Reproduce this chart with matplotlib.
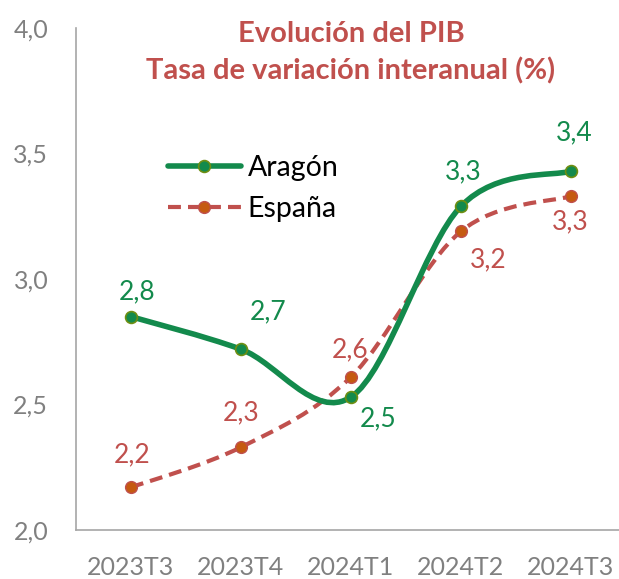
import matplotlib
matplotlib.use("Agg")
import matplotlib.pyplot as plt
from matplotlib.path import Path
from matplotlib.patches import PathPatch
from matplotlib.lines import Line2D
import numpy as np

categories = ["2023T3", "2023T4", "2024T1", "2024T2", "2024T3"]
aragon = [2.85, 2.72, 2.53, 3.29, 3.43]
espana = [2.17, 2.33, 2.61, 3.19, 3.33]
aragon_labels = ["2,8", "2,7", "2,5", "3,3", "3,4"]
espana_labels = ["2,2", "2,3", "2,6", "3,2", "3,3"]
yticks = [2.0, 2.5, 3.0, 3.5, 4.0]
ytick_labels = ["2,0", "2,5", "3,0", "3,5", "4,0"]

GREEN = "#138A4C"
GREEN_EDGE = "#6E8E12"
RED = "#C0504D"
ORANGE = "#C55A11"
GRAY = "#808080"

plt.rcParams['font.family'] = ['Lato', 'DejaVu Sans']

W, H = 619, 579
fig = plt.figure(figsize=(W / 100, H / 100), dpi=100)
ax = fig.add_axes([76 / W, 1 - 530 / H, 550 / W, 502 / H])
ax.set_xlim(-0.5, 4.5)
ax.set_ylim(2.0, 4.0)


def smooth_path(xs, ys):
    pts = np.column_stack([xs, ys]).astype(float)
    n = len(pts)
    verts = [pts[0]]
    codes = [Path.MOVETO]
    for i in range(n - 1):
        p0 = pts[i - 1] if i > 0 else pts[i]
        p1 = pts[i]
        p2 = pts[i + 1]
        p3 = pts[i + 2] if i + 2 < n else pts[i + 1]
        c1 = p1 + (p2 - p0) / 6.0
        c2 = p2 - (p3 - p1) / 6.0
        verts += [c1, c2, p2]
        codes += [Path.CURVE4] * 3
    return Path(verts, codes)


x = np.arange(len(categories))

ax.add_patch(PathPatch(smooth_path(x, espana), facecolor="none", edgecolor=RED,
                       lw=3.0, linestyle=(0, (3.1, 1.7)), capstyle="butt", zorder=2))
ax.add_patch(PathPatch(smooth_path(x, aragon), facecolor="none", edgecolor=GREEN,
                       lw=4.0, capstyle="round", zorder=3))
ax.plot(x, espana, linestyle="none", marker="o", ms=8.5, mfc=ORANGE, mec=RED, mew=1, zorder=4)
ax.plot(x, aragon, linestyle="none", marker="o", ms=8.5, mfc=GREEN, mec=GREEN_EDGE, mew=1.2, zorder=5)

ar_off = [(6, 25), (27, 37), (27, -22), (2, 34), (3, 38)]
es_off = [(1, 33), (0, 34), (-1, 27), (27, -29), (-1, -26)]
for xi, v, lab, off in zip(x, aragon, aragon_labels, ar_off):
    ax.annotate(lab, (xi, v), xytext=off, textcoords="offset pixels",
                ha="center", va="center", color=GREEN, fontsize=19, zorder=6)
for xi, v, lab, off in zip(x, espana, espana_labels, es_off):
    ax.annotate(lab, (xi, v), xytext=off, textcoords="offset pixels",
                ha="center", va="center", color=RED, fontsize=19, zorder=6)

ax.set_xticks(x)
ax.set_xticklabels(categories)
ax.set_yticks(yticks)
ax.set_yticklabels(ytick_labels)
ax.tick_params(axis="both", length=0, labelsize=18, labelcolor=GRAY)
ax.tick_params(axis="x", pad=19)
ax.tick_params(axis="y", pad=20)
for s in ["top", "right"]:
    ax.spines[s].set_visible(False)
for s in ["left", "bottom"]:
    ax.spines[s].set_color("#A6A6A6")
    ax.spines[s].set_linewidth(1.2)

h1 = Line2D([], [], color=GREEN, lw=4.0, marker="o", ms=8.5, mfc=GREEN, mec=GREEN_EDGE, mew=1.2,
            solid_capstyle="round")
h2 = Line2D([], [], color=RED, lw=3.0, linestyle=(0, (3.1, 1.7)), marker="o", ms=8.5,
            mfc=ORANGE, mec=RED, mew=1)
fig.legend([h1, h2], ["Aragón", "España"], loc="center left",
           bbox_to_anchor=(168 / W, 1 - 188.5 / H), frameon=False, fontsize=20.5,
           handlelength=2.55, handletextpad=0.25, labelspacing=0.5, borderpad=0,
           borderaxespad=0, numpoints=1)

fig.text(351 / W, 1 - 34 / H, "Evolución del PIB", ha="center", va="center",
         color=RED, fontsize=21, fontweight="bold")
fig.text(351 / W, 1 - 71 / H, "Tasa de variación interanual (%)", ha="center", va="center",
         color=RED, fontsize=21, fontweight="bold")

fig.savefig("out.png", dpi=100)
